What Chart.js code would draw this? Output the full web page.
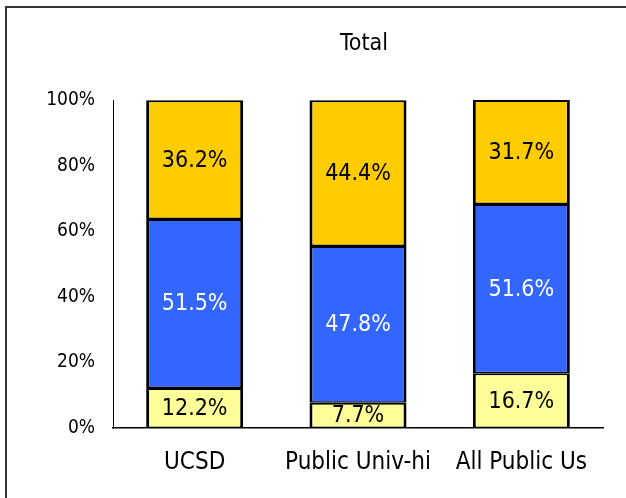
<!DOCTYPE html>
<html>
<head>
<meta charset="utf-8">
<script src="https://cdn.jsdelivr.net/npm/chart.js@4"></script>
<style>
  html, body { margin: 0; padding: 0; background: #fff; overflow: hidden; }
  #wrap { position: relative; width: 626px; height: 498px; overflow: hidden; }
  #frame { position: absolute; left: 5px; top: 6px; width: 700px; height: 600px; border: 2px solid #333; }
  canvas { position: absolute; left: 0; top: 0; }
</style>
</head>
<body>
<div id="wrap">
  <div id="frame"></div>
  <canvas id="chart" width="626" height="498"></canvas>
</div>
<script>
// Chart data
const chartTitle = "Total";
const categories = ["UCSD", "Public Univ-hi", "All Public Us"];
const bottomShare = [12.2, 7.7, 16.7];
const middleShare = [51.5, 47.8, 51.6];
const topShare = [36.2, 44.4, 31.7];
const yTicks = [0, 20, 40, 60, 80, 100];

const FONT = '"Liberation Sans Narrow", "Arial Narrow", "DejaVu Sans Condensed", sans-serif';

// Draws the percentage inside each bar segment
const segmentLabels = {
  id: "segmentLabels",
  afterDatasetsDraw(chart) {
    const ctx = chart.ctx;
    ctx.save();
    ctx.font = "23px " + FONT;
    ctx.textAlign = "center";
    ctx.textBaseline = "middle";
    chart.data.datasets.forEach((ds, i) => {
      const meta = chart.getDatasetMeta(i);
      meta.data.forEach((bar, j) => {
        const { x, y, base } = bar.getProps(["x", "y", "base"], true);
        ctx.fillStyle = ds.labelColor;
        ctx.fillText(ds.data[j].toFixed(1) + "%", x, (y + base) / 2 + 1);
      });
    });
    ctx.restore();
  },
};

// Title centred over the plot area
const plotTitle = {
  id: "plotTitle",
  afterDraw(chart) {
    const ctx = chart.ctx;
    const area = chart.chartArea;
    ctx.save();
    ctx.font = "23px " + FONT;
    ctx.fillStyle = "#000";
    ctx.textAlign = "center";
    ctx.textBaseline = "alphabetic";
    ctx.fillText(chartTitle, (area.left + area.right) / 2 + 6, 50);
    ctx.restore();
  },
};

const barStyle = {
  borderColor: "#000",
  borderWidth: { top: 2, bottom: 1.5, left: 3, right: 3 },
  borderSkipped: false,
  categoryPercentage: 1,
  barPercentage: 0.594,
};

new Chart(document.getElementById("chart"), {
  type: "bar",
  data: {
    labels: categories,
    datasets: [
      { ...barStyle, label: "bottom", data: bottomShare, backgroundColor: "#FFFF99", labelColor: "#000" },
      { ...barStyle, label: "middle", data: middleShare, backgroundColor: "#3366FF", labelColor: "#fff" },
      { ...barStyle, label: "top", data: topShare, backgroundColor: "#FFCC00", labelColor: "#000" },
    ],
  },
  options: {
    responsive: false,
    animation: false,
    events: [],
    layout: { padding: { top: 100, left: 6, right: 23, bottom: 0 } },
    plugins: {
      legend: { display: false },
      title: { display: false },
      tooltip: { enabled: false },
    },
    scales: {
      x: {
        stacked: true,
        grid: { display: false, drawTicks: false },
        border: { display: true, color: "#000", width: 1.5 },
        ticks: { color: "#000", font: { family: FONT, size: 24 }, padding: 20 },
        afterFit: (scale) => { scale.height = 70; },
      },
      y: {
        stacked: true,
        min: 0,
        max: 100,
        grid: { display: false, drawTicks: false },
        border: { display: true, color: "#000", width: 1 },
        ticks: {
          color: "#000",
          font: { family: FONT, size: 19 },
          padding: 18,
          callback: (v) => v + "%",
        },
        afterBuildTicks: (scale) => { scale.ticks = yTicks.map((v) => ({ value: v })); },
        afterFit: (scale) => { scale.width = 107; },
      },
    },
  },
  plugins: [segmentLabels, plotTitle],
});
</script>
</body>
</html>
